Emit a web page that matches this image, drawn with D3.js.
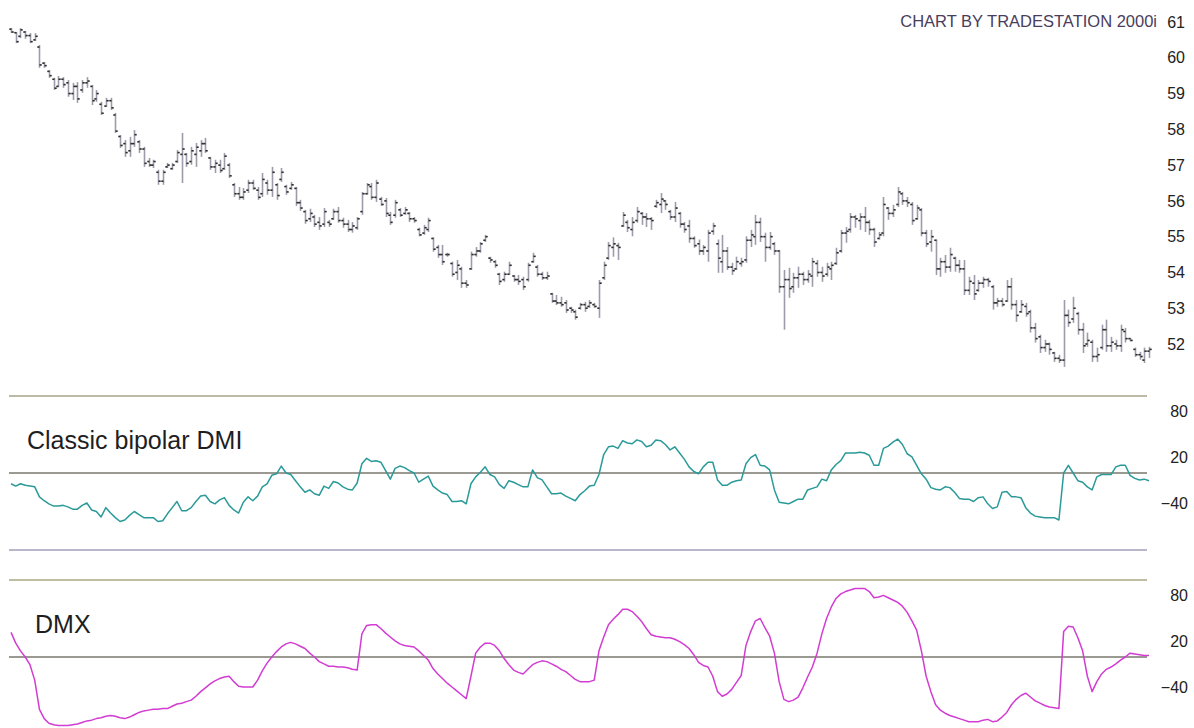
<!DOCTYPE html>
<html><head><meta charset="utf-8">
<script src="https://cdn.jsdelivr.net/npm/d3@7"></script>
<style>html,body{margin:0;padding:0;background:#fff;} svg{display:block;}</style>
</head><body>
<svg id="chart" width="1194" height="728"></svg>
<script>
const high = [60.83,60.72,60.83,60.75,60.69,60.69,60.36,59.88,59.66,59.44,
59.49,59.46,59.38,59.30,59.32,59.38,59.46,59.24,59.10,58.77,
58.88,58.88,58.46,57.84,57.70,57.79,57.98,57.70,57.51,57.20,
57.15,56.87,56.87,57.06,57.06,57.42,57.90,57.34,57.51,57.62,
57.70,57.76,57.23,57.15,57.15,57.34,57.06,56.50,56.39,56.36,
56.59,56.59,56.39,56.78,56.59,56.95,56.50,56.92,56.45,56.53,
56.39,56.03,55.75,55.78,55.61,55.55,55.80,55.47,55.78,55.83,
55.53,55.47,55.41,55.55,56.25,56.50,56.50,56.59,56.11,56.08,
55.69,56.03,55.80,55.83,55.69,55.55,55.25,55.33,55.53,54.98,
54.77,54.77,54.55,54.30,54.35,54.16,53.79,54.58,54.71,54.85,
55.05,54.44,54.35,53.99,54.02,54.30,53.93,53.93,53.88,54.27,
54.55,54.21,54.02,54.02,53.43,53.37,53.32,53.23,53.04,52.96,
53.15,53.18,53.23,53.15,53.79,54.30,54.85,54.98,54.83,55.69,
55.47,55.55,55.83,55.69,55.66,55.55,56.03,56.22,56.03,55.75,
55.97,55.69,55.41,55.47,55.01,54.92,54.77,55.19,55.39,54.92,
55.05,54.71,54.27,54.44,54.41,55.01,55.19,55.61,55.53,55.11,
55.13,54.85,54.63,54.07,54.13,53.99,54.16,54.02,54.07,54.41,
54.35,54.16,54.27,54.30,54.69,55.19,55.27,55.66,55.61,55.66,
55.83,55.47,55.25,55.13,56.11,55.83,55.89,56.39,56.25,56.11,
55.97,55.89,55.80,55.19,55.19,54.92,54.41,54.49,54.69,54.44,
54.35,54.35,53.88,53.93,53.79,53.88,53.85,53.65,53.29,53.29,
53.79,53.85,53.23,53.23,53.15,52.96,52.59,52.26,52.12,52.04,
51.78,51.70,53.23,52.96,53.32,52.90,52.59,52.32,52.12,51.90,
52.54,52.68,52.20,52.12,52.54,52.45,52.17,51.90,51.78,51.90,
51.92];
const low = [60.69,60.41,60.55,60.53,60.41,60.47,59.72,59.72,59.44,59.10,
59.18,59.16,58.91,58.82,58.74,59.02,59.16,58.68,58.77,58.40,
58.63,58.54,57.90,57.48,57.23,57.23,57.51,57.34,56.95,56.95,
56.92,56.45,56.45,56.92,56.87,57.06,56.50,56.95,57.01,56.95,
57.23,57.34,56.87,56.78,56.78,56.87,56.64,56.11,56.03,56.03,
56.22,56.31,56.03,56.11,56.17,56.11,56.03,56.53,56.17,56.31,
55.86,55.72,55.36,55.41,55.27,55.19,55.27,55.27,55.47,55.39,
55.25,55.13,55.11,55.19,55.61,56.17,56.03,55.97,55.86,55.55,
55.33,55.53,55.55,55.61,55.41,55.39,55.01,55.05,55.13,54.58,
54.41,54.21,54.44,53.88,53.79,53.57,53.57,54.07,54.44,54.55,
54.85,54.27,54.13,53.65,53.74,53.93,53.74,53.65,53.51,53.74,
54.27,53.88,53.79,53.79,53.15,53.09,53.04,52.87,52.87,52.68,
52.96,52.90,53.01,53.01,52.73,53.79,54.35,54.44,54.35,55.27,
55.13,55.01,55.39,55.33,55.27,55.19,55.80,55.66,55.75,55.47,
55.41,55.25,55.11,54.83,54.69,54.49,54.49,54.30,55.05,53.99,
53.99,54.07,53.93,54.07,54.16,54.27,54.71,54.77,54.85,54.30,
54.63,54.49,53.43,52.40,53.29,53.43,53.57,53.65,53.71,53.60,
53.88,53.74,53.88,53.79,54.21,54.55,54.83,55.11,55.25,55.19,
55.13,55.05,54.71,54.92,55.01,55.47,55.55,55.83,55.89,55.83,
55.33,55.47,55.01,54.71,54.58,53.93,53.88,53.99,54.02,54.02,
53.99,53.37,53.37,53.23,53.46,53.57,53.60,52.96,53.04,53.04,
53.18,52.96,52.62,52.87,52.76,52.32,52.04,51.75,51.78,51.70,
51.50,51.47,51.36,52.48,52.59,52.26,51.75,51.92,51.50,51.50,
51.84,51.78,51.78,51.84,51.78,52.04,52.07,51.64,51.56,51.47,
51.61];
const open = [60.80,60.70,60.60,60.72,60.62,60.50,60.30,59.85,59.62,59.40,
59.20,59.40,59.30,59.00,59.20,59.10,59.30,59.20,58.85,58.70,
58.65,58.80,58.40,57.80,57.60,57.40,57.60,57.65,57.45,57.10,
57.00,56.80,56.55,56.95,56.90,57.10,57.30,57.30,57.10,57.30,
57.40,57.60,57.20,56.95,57.00,56.90,57.00,56.45,56.20,56.10,
56.30,56.50,56.30,56.20,56.50,56.30,56.45,56.60,56.40,56.35,
56.35,55.95,55.70,55.50,55.55,55.40,55.35,55.40,55.50,55.70,
55.45,55.35,55.20,55.25,55.70,56.20,56.40,56.10,56.05,56.00,
55.60,55.60,55.75,55.65,55.65,55.50,55.20,55.10,55.20,54.95,
54.70,54.50,54.50,54.25,54.00,54.10,53.70,54.10,54.50,54.60,
54.90,54.40,54.30,53.95,53.80,53.95,53.90,53.80,53.80,53.80,
54.30,54.15,53.95,53.85,53.40,53.20,53.15,53.15,53.00,52.90,
53.00,53.10,53.05,53.10,53.00,53.85,54.40,54.70,54.75,55.30,
55.40,55.20,55.45,55.65,55.55,55.50,55.85,55.90,56.00,55.70,
55.55,55.65,55.35,55.30,54.95,54.80,54.60,54.60,55.15,54.80,
54.30,54.60,54.15,54.10,54.25,54.35,54.90,55.00,55.40,55.00,
54.70,54.80,54.60,53.60,53.80,53.60,53.85,53.95,53.80,53.90,
54.25,54.00,53.95,54.10,54.25,54.60,55.10,55.20,55.55,55.45,
55.55,55.40,55.20,54.95,55.10,55.80,55.65,55.90,56.20,56.00,
55.90,55.50,55.75,55.10,54.85,54.90,54.10,54.30,54.15,54.40,
54.20,54.10,53.50,53.70,53.50,53.70,53.80,53.60,53.15,53.20,
53.20,53.60,53.10,52.90,53.05,52.90,52.45,52.20,51.90,52.00,
51.75,51.60,51.55,52.80,52.70,52.85,52.40,52.00,52.05,51.65,
51.90,52.40,51.95,52.00,51.95,52.35,52.15,51.85,51.70,51.55,
51.80];
const close = [60.72,60.45,60.78,60.62,60.45,60.60,59.80,59.78,59.50,59.15,
59.40,59.25,59.00,59.20,58.85,59.30,59.35,58.80,59.00,58.45,
58.80,58.60,57.95,57.55,57.35,57.60,57.85,57.45,57.05,57.00,
57.10,56.55,56.80,57.00,57.00,57.35,57.45,57.05,57.40,57.50,
57.60,57.40,56.95,57.05,56.85,57.25,56.70,56.20,56.10,56.25,
56.50,56.35,56.10,56.60,56.30,56.80,56.15,56.80,56.25,56.45,
55.95,55.80,55.45,55.65,55.35,55.30,55.70,55.35,55.70,55.45,
55.35,55.20,55.30,55.50,56.20,56.45,56.10,56.50,55.90,55.65,
55.40,55.95,55.60,55.75,55.50,55.45,55.05,55.25,55.45,54.65,
54.50,54.30,54.50,53.95,54.20,53.70,53.65,54.50,54.60,54.80,
55.00,54.35,54.20,53.75,53.95,54.20,53.80,53.75,53.60,54.20,
54.45,53.95,53.85,53.90,53.20,53.15,53.10,52.95,52.95,52.75,
53.10,53.00,53.15,53.05,53.70,54.20,54.75,54.80,54.70,55.60,
55.25,55.40,55.70,55.55,55.50,55.45,55.95,56.05,55.90,55.55,
55.80,55.35,55.20,54.95,54.75,54.60,54.70,55.10,55.30,54.40,
54.60,54.15,54.05,54.30,54.30,54.90,55.05,55.40,55.00,54.70,
55.00,54.60,53.60,53.80,53.55,53.85,53.95,53.80,53.95,54.30,
54.00,53.90,54.15,54.20,54.55,55.10,55.15,55.55,55.50,55.55,
55.40,55.20,54.85,55.05,55.90,55.65,55.75,56.25,56.00,55.95,
55.45,55.80,55.10,54.80,55.00,54.10,54.30,54.15,54.50,54.20,
54.10,53.50,53.75,53.40,53.70,53.80,53.75,53.15,53.20,53.10,
53.60,53.10,52.80,53.10,52.85,52.45,52.15,51.90,52.00,51.85,
51.60,51.55,52.80,52.60,53.00,52.40,51.95,52.10,51.65,51.70,
52.40,51.95,52.05,51.95,52.40,52.15,52.10,51.70,51.65,51.80,
51.85];
const dmi = [-14,-17,-14,-16,-17,-18,-31,-36,-40,-43,
-43,-42,-44,-47,-47,-42,-39,-48,-50,-57,
-45,-52,-58,-63,-61,-55,-50,-54,-58,-58,
-58,-63,-62,-53,-45,-37,-49,-49,-45,-37,
-30,-29,-37,-40,-35,-32,-42,-48,-52,-38,
-31,-36,-30,-18,-14,-3,-1,9,0,-2,
-10,-18,-25,-22,-27,-29,-17,-20,-11,-13,
-18,-21,-22,-13,12,19,15,16,14,3,
-8,6,9,7,3,0,-12,-8,-4,-17,
-22,-26,-28,-37,-37,-36,-40,-14,-5,1,
8,-2,-5,-15,-20,-10,-12,-15,-18,-18,
4,-6,-9,-18,-27,-27,-26,-30,-33,-36,
-28,-23,-17,-16,-2,24,34,35,32,42,
39,38,43,41,34,36,43,42,37,30,
34,26,18,8,2,-1,8,14,14,-9,
-16,-16,-12,-10,-9,12,20,24,10,9,
4,-22,-38,-39,-40,-37,-34,-34,-22,-20,
-18,-8,-10,4,11,16,26,26,26,27,
26,23,10,10,32,35,40,44,37,25,
21,10,-1,-8,-19,-21,-22,-18,-19,-25,
-33,-34,-34,-37,-32,-31,-40,-46,-44,-25,
-24,-31,-31,-32,-45,-52,-56,-57,-58,-58,
-58,-61,0,10,0,-10,-12,-18,-22,-5,
-2,-2,-2,8,10,10,-3,-7,-9,-8,
-10];
const dmx = [32,18,8,0,-10,-30,-68,-80,-86,-88,
-89,-89,-89,-88,-87,-85,-83,-82,-80,-79,
-77,-76,-77,-79,-80,-78,-75,-72,-70,-69,
-68,-68,-67,-67,-64,-61,-60,-58,-56,-51,
-45,-40,-35,-31,-28,-26,-25,-32,-38,-39,
-39,-39,-30,-18,-8,0,7,13,17,19,
17,14,11,5,0,-6,-9,-12,-12,-13,
-13,-14,-16,-17,30,41,42,42,37,31,
26,21,17,15,14,13,8,2,-4,-15,
-22,-28,-34,-39,-44,-49,-54,-25,5,13,
18,18,15,8,-2,-10,-17,-20,-22,-16,
-10,-7,-5,-6,-9,-12,-16,-19,-24,-29,
-32,-32,-32,-30,8,26,42,49,55,62,
62,59,53,46,37,29,27,26,25,25,
23,20,16,11,3,-7,-11,-13,-25,-45,
-51,-48,-42,-33,-24,15,33,47,50,38,
27,5,-32,-55,-58,-56,-52,-40,-26,-13,
5,30,50,65,76,82,85,87,89,89,
89,85,77,78,80,77,74,71,66,58,
47,35,8,-25,-45,-62,-69,-73,-76,-78,
-80,-82,-84,-84,-84,-82,-81,-84,-83,-78,
-72,-62,-55,-50,-47,-52,-57,-60,-63,-65,
-66,-67,33,40,39,25,8,-25,-45,-32,
-22,-16,-13,-9,-4,0,5,4,3,2,
2];
const priceTicks = [61,60,59,58,57,56,55,54,53,52];
const oscTicks = [80,20,-40];
const titleText = "CHART BY TRADESTATION 2000i";
const dmiLabel = "Classic bipolar DMI";
const dmxLabel = "DMX";

const FONT = "'Liberation Sans', Arial, Helvetica, sans-serif";
const svg = d3.select('#chart');
const n = high.length;
const x = d3.scaleLinear().domain([0, n - 1]).range([11, 1149]);
const yP = d3.scaleLinear().domain([52, 61]).range([344, 22]);
const yDmi = d3.scaleLinear().domain([-100, 100]).range([550, 396]);
const yDmx = d3.scaleLinear().domain([-100, 100]).range([734, 580]);
const X0 = 9, X1 = 1147;

// separator and zero lines
const hLines = [
  {y: yDmi(100), c: '#a3a38a', w: 1.5},
  {y: yDmi(0), c: '#9a9a92', w: 2},
  {y: yDmi(-100), c: '#a0a0b8', w: 1.5},
  {y: yDmx(100), c: '#a8a884', w: 1.5},
  {y: yDmx(0), c: '#9a9a92', w: 2}
];
svg.append('g').selectAll('line').data(hLines).join('line')
  .attr('x1', X0).attr('x2', X1)
  .attr('y1', d => d.y).attr('y2', d => d.y)
  .attr('stroke', d => d.c).attr('stroke-width', d => d.w);

// OHLC bars
const idx = d3.range(n);
const bars = svg.append('g');
const px = i => Math.round(x(i)) + 0.5;
bars.selectAll('line.hl').data(idx).join('line').attr('class', 'hl')
  .attr('x1', px).attr('x2', px)
  .attr('y1', i => yP(high[i])).attr('y2', i => yP(low[i]))
  .attr('stroke', '#9c9caa').attr('stroke-width', 1.6);
bars.selectAll('line.op').data(idx).join('line').attr('class', 'op')
  .attr('x1', i => px(i) - 2.2).attr('x2', i => px(i))
  .attr('y1', i => yP(open[i])).attr('y2', i => yP(open[i]))
  .attr('stroke', '#2a2a2a').attr('stroke-width', 1.6);
bars.selectAll('line.cl').data(idx).join('line').attr('class', 'cl')
  .attr('x1', i => px(i)).attr('x2', i => px(i) + 2.2)
  .attr('y1', i => yP(close[i])).attr('y2', i => yP(close[i]))
  .attr('stroke', '#2a2a2a').attr('stroke-width', 1.6);

// oscillator lines
svg.append('path').datum(dmi)
  .attr('fill', 'none').attr('stroke', '#2a9a98').attr('stroke-width', 1.5)
  .attr('stroke-linejoin', 'round')
  .attr('d', d3.line().x((d, i) => x(i)).y(d => yDmi(d)));
svg.append('path').datum(dmx)
  .attr('fill', 'none').attr('stroke', '#d23cd2').attr('stroke-width', 1.5)
  .attr('stroke-linejoin', 'round')
  .attr('d', d3.line().x((d, i) => x(i)).y(d => yDmx(d)));

// axes
function styleAxis(g) {
  g.select('.domain').remove();
  g.attr('font-size', 16).attr('font-family', FONT);
  g.selectAll('text').attr('fill', '#222');
}
svg.append('g').attr('transform', 'translate(1185,0)')
  .call(d3.axisLeft(yP).tickValues(priceTicks).tickSize(0).tickPadding(0).tickFormat(d3.format('d')))
  .call(styleAxis);
svg.append('g').attr('transform', 'translate(1188,0)')
  .call(d3.axisLeft(yDmi).tickValues(oscTicks).tickSize(0).tickPadding(0).tickFormat(d3.format('d')))
  .call(styleAxis);
svg.append('g').attr('transform', 'translate(1188,0)')
  .call(d3.axisLeft(yDmx).tickValues(oscTicks).tickSize(0).tickPadding(0).tickFormat(d3.format('d')))
  .call(styleAxis);

// texts
svg.append('text').attr('x', 1157).attr('y', 27).attr('text-anchor', 'end')
  .attr('font-family', FONT).attr('font-size', 16.5).attr('fill', '#4a3d5c')
  .text(titleText);
svg.append('text').attr('x', 27).attr('y', 449)
  .attr('font-family', FONT).attr('font-size', 25).attr('fill', '#1e1e1e')
  .text(dmiLabel);
svg.append('text').attr('x', 35).attr('y', 633)
  .attr('font-family', FONT).attr('font-size', 25).attr('fill', '#1e1e1e')
  .text(dmxLabel);
</script>
</body></html>
